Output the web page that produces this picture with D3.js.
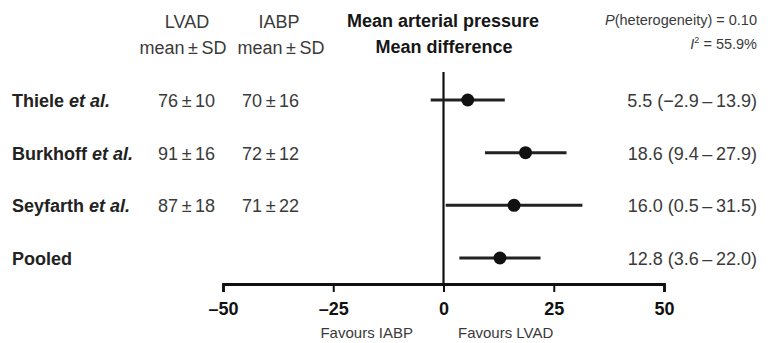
<!DOCTYPE html>
<html>
<head>
<meta charset="utf-8">
<script src="https://cdn.jsdelivr.net/npm/d3@7"></script>
<style>
  body { margin: 0; background: #fff; }
  text { font-family: "Liberation Sans", Arial, sans-serif; }
</style>
</head>
<body>
<div id="chart"></div>
<script>
// data
var studies = ["Thiele", "Burkhoff", "Seyfarth", "Pooled"];
var lvad = ["76\u2009\u00b1\u200910", "91\u2009\u00b1\u200916", "87\u2009\u00b1\u200918", ""];
var iabp = ["70\u2009\u00b1\u200916", "72\u2009\u00b1\u200912", "71\u2009\u00b1\u200922", ""];
var est = [5.5, 18.6, 16.0, 12.8];
var lo = [-2.9, 9.4, 0.5, 3.6];
var hi = [13.9, 27.9, 31.5, 22.0];
var ticks = [-50, -25, 0, 25, 50];

var W = 779, H = 343;
var svg = d3.select("#chart").append("svg")
  .attr("width", W).attr("height", H);

var x = d3.scaleLinear().domain([-50, 50]).range([223, 664]);
var y = d3.scalePoint().domain(studies).range([100, 258]);

var grey = "#3a3a3a";

function head(t, xx, yy, opts) {
  opts = opts || {};
  return svg.append("text").attr("x", xx).attr("y", yy)
    .attr("text-anchor", opts.anchor || "middle")
    .attr("font-size", opts.size || 18)
    .attr("font-weight", opts.bold ? "bold" : "normal")
    .attr("fill", opts.fill || grey)
    .text(t);
}
head("LVAD", 187, 28);
head("mean\u2009\u00b1\u2009SD", 183, 54);
head("IABP", 279, 28);
head("mean\u2009\u00b1\u2009SD", 281, 54);
head("Mean arterial pressure", 443, 27, {bold: true, fill: "#161616"});
head("Mean difference", 444, 53, {bold: true, fill: "#161616"});

var ph = svg.append("text").attr("x", 757).attr("y", 25)
  .attr("text-anchor", "end").attr("font-size", 14.5).attr("fill", grey);
ph.append("tspan").attr("font-style", "italic").text("P");
ph.append("tspan").text("(heterogeneity) = 0.10");
var i2 = svg.append("text").attr("x", 757).attr("y", 49)
  .attr("text-anchor", "end").attr("font-size", 14.5).attr("fill", grey);
i2.append("tspan").attr("font-style", "italic").text("I");
i2.append("tspan").attr("font-size", 9).attr("dy", -6).text("2");
i2.append("tspan").attr("dy", 6).text(" = 55.9%");

// study labels
var lab = svg.selectAll(".lab").data(studies).enter()
  .append("text")
  .attr("class", "lab")
  .attr("x", 12)
  .attr("y", function(d) { return y(d) + 7; })
  .attr("font-size", 18)
  .attr("font-weight", "bold")
  .attr("fill", "#222");
lab.append("tspan").text(function(d) { return d; });
lab.filter(function(d) { return d != "Pooled"; })
  .append("tspan").attr("font-style", "italic").text(" et al.");

svg.selectAll(".lv").data(lvad).enter()
  .append("text")
  .attr("x", 158)
  .attr("y", function(d, i) { return y(studies[i]) + 7; })
  .attr("font-size", 18)
  .attr("fill", grey)
  .text(function(d) { return d; });
svg.selectAll(".ia").data(iabp).enter()
  .append("text")
  .attr("x", 242)
  .attr("y", function(d, i) { return y(studies[i]) + 7; })
  .attr("font-size", 18)
  .attr("fill", grey)
  .text(function(d) { return d; });

// estimate text
function f(v) { return (v < 0 ? "\u2212" : "") + Math.abs(v).toFixed(1); }
svg.selectAll(".est").data(est).enter()
  .append("text")
  .attr("x", 757)
  .attr("y", function(d, i) { return y(studies[i]) + 7; })
  .attr("text-anchor", "end")
  .attr("font-size", 18)
  .attr("fill", grey)
  .text(function(d, i) { return f(d) + " (" + f(lo[i]) + "\u2009\u2013\u2009" + f(hi[i]) + ")"; });

// axis
var axis = svg.append("g").attr("transform", "translate(0,284)")
  .call(d3.axisBottom(x).tickValues(ticks).tickSize(8)
    .tickFormat(function(d) { return d < 0 ? "\u2013" + Math.abs(d) : d; }));
axis.select(".domain").attr("stroke", "#111").attr("stroke-width", 2.8);
axis.selectAll(".tick line").attr("stroke", "#111").attr("stroke-width", 2);
axis.selectAll(".tick text").attr("font-size", 18).attr("font-weight", "bold")
  .attr("fill", "#111").attr("y", 31).attr("dy", 0)
  .attr("font-family", "'Liberation Sans', Arial, sans-serif");

head("Favours IABP", 413, 338, {size: 15, anchor: "end"});
head("Favours LVAD", 458, 338, {size: 15, anchor: "start"});

// zero line
svg.append("line")
  .attr("x1", x(0)).attr("x2", x(0))
  .attr("y1", 72).attr("y2", 284)
  .attr("stroke", "#111").attr("stroke-width", 2.2);

// CIs
svg.selectAll(".ci").data(est).enter()
  .append("line")
  .attr("x1", function(d, i) { return x(lo[i]); })
  .attr("x2", function(d, i) { return x(hi[i]); })
  .attr("y1", function(d, i) { return y(studies[i]); })
  .attr("y2", function(d, i) { return y(studies[i]); })
  .attr("stroke", "#222").attr("stroke-width", 3);
svg.selectAll(".pt").data(est).enter()
  .append("circle")
  .attr("cx", function(d) { return x(d); })
  .attr("cy", function(d, i) { return y(studies[i]); })
  .attr("r", 6.5)
  .attr("fill", "#111");
</script>
</body>
</html>
